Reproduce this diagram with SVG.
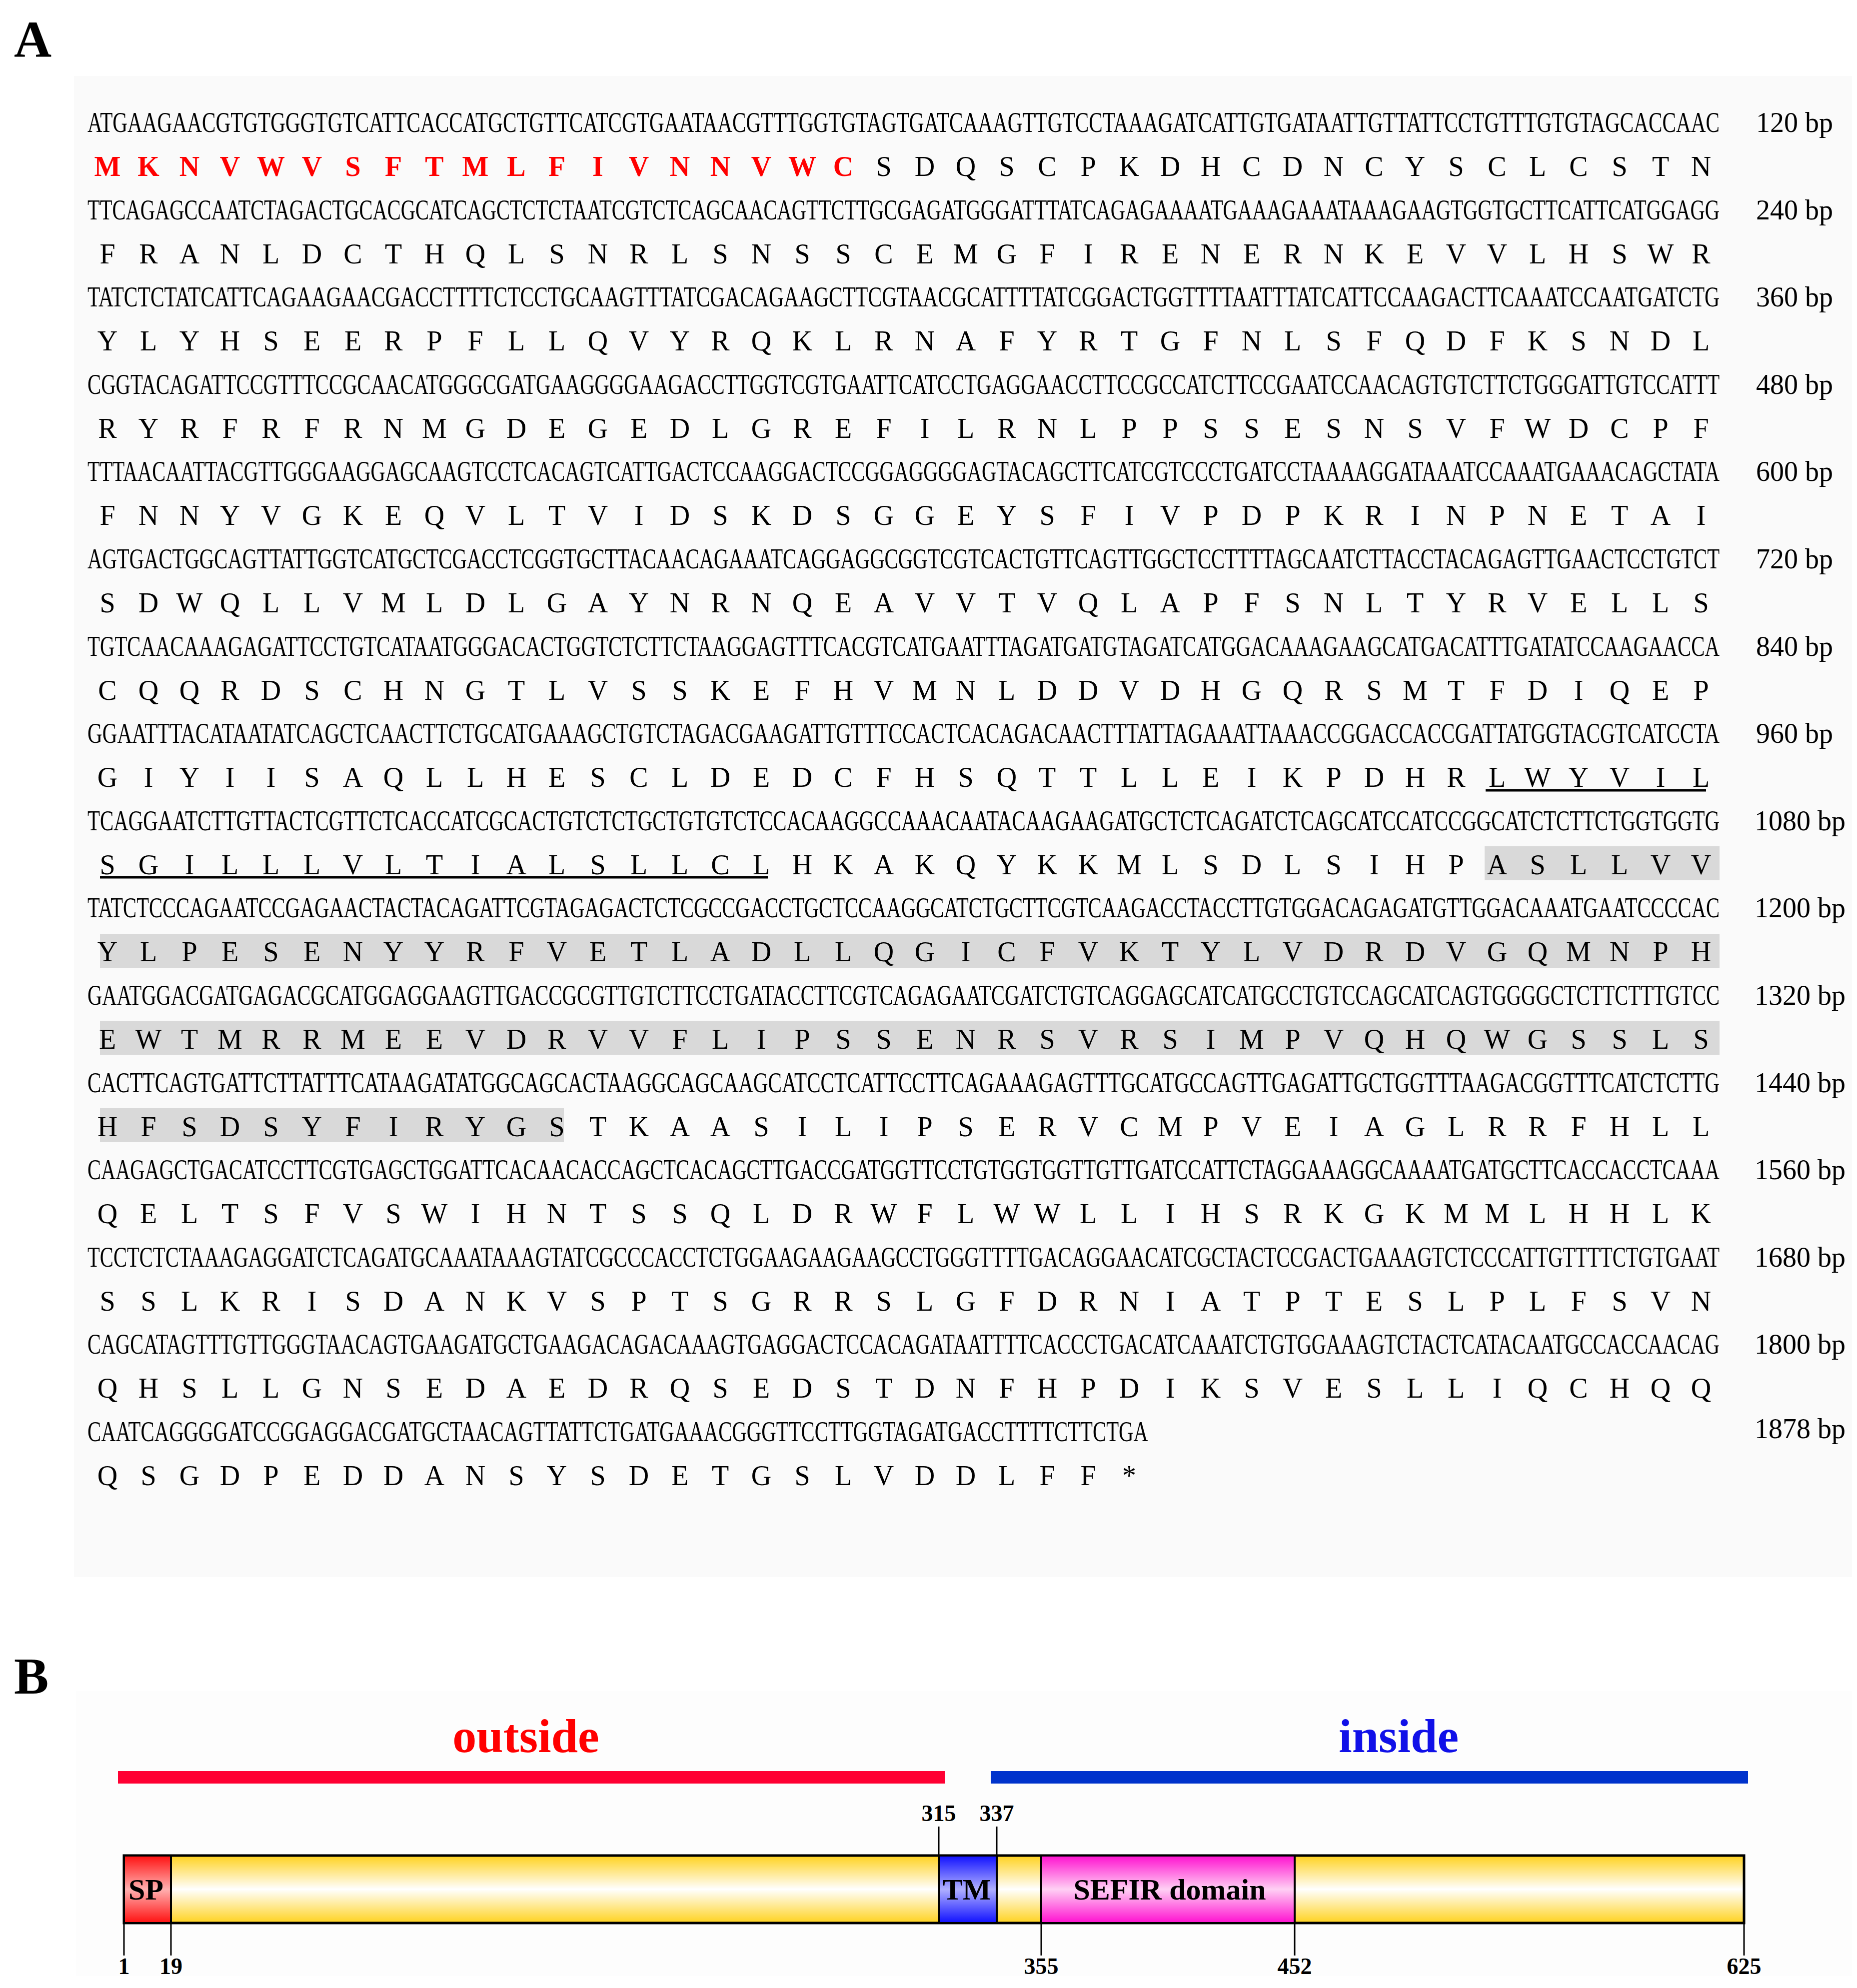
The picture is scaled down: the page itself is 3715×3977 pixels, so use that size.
<svg xmlns="http://www.w3.org/2000/svg" width="3715" height="3977" viewBox="0 0 3715 3977">
<style>
.dna{font-family:"Liberation Serif",serif;font-size:58px;fill:#000}
.aa{font-family:"Liberation Serif",serif;font-size:56px;fill:#000;text-anchor:middle}
.sig{font-family:"Liberation Serif",serif;font-size:56px;font-weight:bold;fill:#ff0000;text-anchor:middle}
.bp{font-family:"Liberation Serif",serif;font-size:56px;fill:#000}
.pl{font-family:"Liberation Serif",serif;font-size:104px;font-weight:bold;fill:#000}
.num{font-family:"Liberation Serif",serif;font-size:46px;font-weight:bold;fill:#000;text-anchor:middle}
.dom{font-family:"Liberation Serif",serif;font-size:60px;font-weight:bold;fill:#000;text-anchor:middle}
.grey{fill:#d9d9d9}
.ul{stroke:#000;stroke-width:5}
.tick{stroke:#000;stroke-width:3}
</style>
<defs>
<linearGradient id="gold" x1="0" y1="0" x2="0" y2="1">
<stop offset="0" stop-color="#ffd21e"/><stop offset="0.5" stop-color="#ffffff"/><stop offset="1" stop-color="#ffd21e"/></linearGradient>
<linearGradient id="red" x1="0" y1="0" x2="0" y2="1">
<stop offset="0" stop-color="#ff1010"/><stop offset="0.5" stop-color="#ffb0b0"/><stop offset="1" stop-color="#ff1010"/></linearGradient>
<linearGradient id="blue" x1="0" y1="0" x2="0" y2="1">
<stop offset="0" stop-color="#1010ff"/><stop offset="0.5" stop-color="#b0b0ff"/><stop offset="1" stop-color="#1010ff"/></linearGradient>
<linearGradient id="pink" x1="0" y1="0" x2="0" y2="1">
<stop offset="0" stop-color="#ff10d0"/><stop offset="0.5" stop-color="#ffd0f4"/><stop offset="1" stop-color="#ff10d0"/></linearGradient>
</defs>
<rect width="3715" height="3977" fill="#ffffff"/>
<rect x="148" y="152" width="3557" height="3003" fill="#fafafa"/>
<rect x="152" y="3383" width="3553" height="570" fill="#fdfdfd"/>
<text class="pl" x="28" y="114">A</text>
<text class="pl" x="28" y="3388">B</text>
<g id="highlights">
<rect class="grey" x="2970" y="1693" width="470" height="68"/>
<rect class="grey" x="200" y="1868" width="3240" height="68"/>
<rect class="grey" x="200" y="2042" width="3240" height="68"/>
<rect class="grey" x="200" y="2217" width="928" height="68"/>
<line class="ul" x1="2972" y1="1581" x2="3413" y2="1581"/>
<line class="ul" x1="200" y1="1755" x2="1536" y2="1755"/>
</g>
<g id="dna" class="dna" transform="scale(0.69 1)">
<text x="253.62" y="264" textLength="4731.9" lengthAdjust="spacingAndGlyphs">ATGAAGAACGTGTGGGTGTCATTCACCATGCTGTTCATCGTGAATAACGTTTGGTGTAGTGATCAAAGTTGTCCTAAAGATCATTGTGATAATTGTTATTCCTGTTTGTGTAGCACCAAC</text>
<text x="253.62" y="438.6" textLength="4731.9" lengthAdjust="spacingAndGlyphs">TTCAGAGCCAATCTAGACTGCACGCATCAGCTCTCTAATCGTCTCAGCAACAGTTCTTGCGAGATGGGATTTATCAGAGAAAATGAAAGAAATAAAGAAGTGGTGCTTCATTCATGGAGG</text>
<text x="253.62" y="613.2" textLength="4731.9" lengthAdjust="spacingAndGlyphs">TATCTCTATCATTCAGAAGAACGACCTTTTCTCCTGCAAGTTTATCGACAGAAGCTTCGTAACGCATTTTATCGGACTGGTTTTAATTTATCATTCCAAGACTTCAAATCCAATGATCTG</text>
<text x="253.62" y="787.8" textLength="4731.9" lengthAdjust="spacingAndGlyphs">CGGTACAGATTCCGTTTCCGCAACATGGGCGATGAAGGGGAAGACCTTGGTCGTGAATTCATCCTGAGGAACCTTCCGCCATCTTCCGAATCCAACAGTGTCTTCTGGGATTGTCCATTT</text>
<text x="253.62" y="962.4" textLength="4731.9" lengthAdjust="spacingAndGlyphs">TTTAACAATTACGTTGGGAAGGAGCAAGTCCTCACAGTCATTGACTCCAAGGACTCCGGAGGGGAGTACAGCTTCATCGTCCCTGATCCTAAAAGGATAAATCCAAATGAAACAGCTATA</text>
<text x="253.62" y="1137" textLength="4731.9" lengthAdjust="spacingAndGlyphs">AGTGACTGGCAGTTATTGGTCATGCTCGACCTCGGTGCTTACAACAGAAATCAGGAGGCGGTCGTCACTGTTCAGTTGGCTCCTTTTAGCAATCTTACCTACAGAGTTGAACTCCTGTCT</text>
<text x="253.62" y="1311.6" textLength="4731.9" lengthAdjust="spacingAndGlyphs">TGTCAACAAAGAGATTCCTGTCATAATGGGACACTGGTCTCTTCTAAGGAGTTTCACGTCATGAATTTAGATGATGTAGATCATGGACAAAGAAGCATGACATTTGATATCCAAGAACCA</text>
<text x="253.62" y="1486.2" textLength="4731.9" lengthAdjust="spacingAndGlyphs">GGAATTTACATAATATCAGCTCAACTTCTGCATGAAAGCTGTCTAGACGAAGATTGTTTCCACTCACAGACAACTTTATTAGAAATTAAACCGGACCACCGATTATGGTACGTCATCCTA</text>
<text x="253.62" y="1660.8" textLength="4731.9" lengthAdjust="spacingAndGlyphs">TCAGGAATCTTGTTACTCGTTCTCACCATCGCACTGTCTCTGCTGTGTCTCCACAAGGCCAAACAATACAAGAAGATGCTCTCAGATCTCAGCATCCATCCGGCATCTCTTCTGGTGGTG</text>
<text x="253.62" y="1835.4" textLength="4731.9" lengthAdjust="spacingAndGlyphs">TATCTCCCAGAATCCGAGAACTACTACAGATTCGTAGAGACTCTCGCCGACCTGCTCCAAGGCATCTGCTTCGTCAAGACCTACCTTGTGGACAGAGATGTTGGACAAATGAATCCCCAC</text>
<text x="253.62" y="2010" textLength="4731.9" lengthAdjust="spacingAndGlyphs">GAATGGACGATGAGACGCATGGAGGAAGTTGACCGCGTTGTCTTCCTGATACCTTCGTCAGAGAATCGATCTGTCAGGAGCATCATGCCTGTCCAGCATCAGTGGGGCTCTTCTTTGTCC</text>
<text x="253.62" y="2184.6" textLength="4731.9" lengthAdjust="spacingAndGlyphs">CACTTCAGTGATTCTTATTTCATAAGATATGGCAGCACTAAGGCAGCAAGCATCCTCATTCCTTCAGAAAGAGTTTGCATGCCAGTTGAGATTGCTGGTTTAAGACGGTTTCATCTCTTG</text>
<text x="253.62" y="2359.2" textLength="4731.9" lengthAdjust="spacingAndGlyphs">CAAGAGCTGACATCCTTCGTGAGCTGGATTCACAACACCAGCTCACAGCTTGACCGATGGTTCCTGTGGTGGTTGTTGATCCATTCTAGGAAAGGCAAAATGATGCTTCACCACCTCAAA</text>
<text x="253.62" y="2533.8" textLength="4731.9" lengthAdjust="spacingAndGlyphs">TCCTCTCTAAAGAGGATCTCAGATGCAAATAAAGTATCGCCCACCTCTGGAAGAAGAAGCCTGGGTTTTGACAGGAACATCGCTACTCCGACTGAAAGTCTCCCATTGTTTTCTGTGAAT</text>
<text x="253.62" y="2708.4" textLength="4731.9" lengthAdjust="spacingAndGlyphs">CAGCATAGTTTGTTGGGTAACAGTGAAGATGCTGAAGACAGACAAAGTGAGGACTCCACAGATAATTTTCACCCTGACATCAAATCTGTGGAAAGTCTACTCATACAATGCCACCAACAG</text>
<text x="253.62" y="2883" textLength="3075.4" lengthAdjust="spacingAndGlyphs">CAATCAGGGGATCCGGAGGACGATGCTAACAGTTATTCTGATGAAACGGGTTCCTTGGTAGATGACCTTTTCTTCTGA</text>
</g>
<g id="bp" class="bp">
<text x="3513" y="264">120 bp</text>
<text x="3513" y="438.6">240 bp</text>
<text x="3513" y="613.2">360 bp</text>
<text x="3513" y="787.8">480 bp</text>
<text x="3513" y="962.4">600 bp</text>
<text x="3513" y="1137">720 bp</text>
<text x="3513" y="1311.6">840 bp</text>
<text x="3513" y="1486.2">960 bp</text>
<text x="3510" y="1660.8">1080 bp</text>
<text x="3510" y="1835.4">1200 bp</text>
<text x="3510" y="2010">1320 bp</text>
<text x="3510" y="2184.6">1440 bp</text>
<text x="3510" y="2359.2">1560 bp</text>
<text x="3510" y="2533.8">1680 bp</text>
<text x="3510" y="2708.4">1800 bp</text>
<text x="3510" y="2877">1878 bp</text>
</g>
<g id="protein">
<text class="sig" x="215 297 379 460 542 624 706 787 869 951 1033 1114 1196 1278 1360 1441 1523 1605 1687" y="352">MKNVWVSFTMLFIVNNVWC</text>
<text class="aa" x="1768 1850 1932 2014 2095 2177 2259 2341 2422 2504 2586 2668 2749 2831 2913 2995 3076 3158 3240 3322 3403" y="352">SDQSCPKDHCDNCYSCLCSTN</text>
<text class="aa" x="215 297 379 460 542 624 706 787 869 951 1033 1114 1196 1278 1360 1441 1523 1605 1687 1768 1850 1932 2014 2095 2177 2259 2341 2422 2504 2586 2668 2749 2831 2913 2995 3076 3158 3240 3322 3403" y="526.6">FRANLDCTHQLSNRLSNSSCEMGFIRENERNKEVVLHSWR</text>
<text class="aa" x="215 297 379 460 542 624 706 787 869 951 1033 1114 1196 1278 1360 1441 1523 1605 1687 1768 1850 1932 2014 2095 2177 2259 2341 2422 2504 2586 2668 2749 2831 2913 2995 3076 3158 3240 3322 3403" y="701.2">YLYHSEERPFLLQVYRQKLRNAFYRTGFNLSFQDFKSNDL</text>
<text class="aa" x="215 297 379 460 542 624 706 787 869 951 1033 1114 1196 1278 1360 1441 1523 1605 1687 1768 1850 1932 2014 2095 2177 2259 2341 2422 2504 2586 2668 2749 2831 2913 2995 3076 3158 3240 3322 3403" y="875.8">RYRFRFRNMGDEGEDLGREFILRNLPPSSESNSVFWDCPF</text>
<text class="aa" x="215 297 379 460 542 624 706 787 869 951 1033 1114 1196 1278 1360 1441 1523 1605 1687 1768 1850 1932 2014 2095 2177 2259 2341 2422 2504 2586 2668 2749 2831 2913 2995 3076 3158 3240 3322 3403" y="1050.4">FNNYVGKEQVLTVIDSKDSGGEYSFIVPDPKRINPNETAI</text>
<text class="aa" x="215 297 379 460 542 624 706 787 869 951 1033 1114 1196 1278 1360 1441 1523 1605 1687 1768 1850 1932 2014 2095 2177 2259 2341 2422 2504 2586 2668 2749 2831 2913 2995 3076 3158 3240 3322 3403" y="1225">SDWQLLVMLDLGAYNRNQEAVVTVQLAPFSNLTYRVELLS</text>
<text class="aa" x="215 297 379 460 542 624 706 787 869 951 1033 1114 1196 1278 1360 1441 1523 1605 1687 1768 1850 1932 2014 2095 2177 2259 2341 2422 2504 2586 2668 2749 2831 2913 2995 3076 3158 3240 3322 3403" y="1399.6">CQQRDSCHNGTLVSSKEFHVMNLDDVDHGQRSMTFDIQEP</text>
<text class="aa" x="215 297 379 460 542 624 706 787 869 951 1033 1114 1196 1278 1360 1441 1523 1605 1687 1768 1850 1932 2014 2095 2177 2259 2341 2422 2504 2586 2668 2749 2831 2913 2995 3076 3158 3240 3322 3403" y="1574.2">GIYIISAQLLHESCLDEDCFHSQTTLLEIKPDHRLWYVIL</text>
<text class="aa" x="215 297 379 460 542 624 706 787 869 951 1033 1114 1196 1278 1360 1441 1523 1605 1687 1768 1850 1932 2014 2095 2177 2259 2341 2422 2504 2586 2668 2749 2831 2913 2995 3076 3158 3240 3322 3403" y="1748.8">SGILLLVLTIALSLLCLHKAKQYKKMLSDLSIHPASLLVV</text>
<text class="aa" x="215 297 379 460 542 624 706 787 869 951 1033 1114 1196 1278 1360 1441 1523 1605 1687 1768 1850 1932 2014 2095 2177 2259 2341 2422 2504 2586 2668 2749 2831 2913 2995 3076 3158 3240 3322 3403" y="1923.4">YLPESENYYRFVETLADLLQGICFVKTYLVDRDVGQMNPH</text>
<text class="aa" x="215 297 379 460 542 624 706 787 869 951 1033 1114 1196 1278 1360 1441 1523 1605 1687 1768 1850 1932 2014 2095 2177 2259 2341 2422 2504 2586 2668 2749 2831 2913 2995 3076 3158 3240 3322 3403" y="2098">EWTMRRMEEVDRVVFLIPSSENRSVRSIMPVQHQWGSSLS</text>
<text class="aa" x="215 297 379 460 542 624 706 787 869 951 1033 1114 1196 1278 1360 1441 1523 1605 1687 1768 1850 1932 2014 2095 2177 2259 2341 2422 2504 2586 2668 2749 2831 2913 2995 3076 3158 3240 3322 3403" y="2272.6">HFSDSYFIRYGSTKAASILIPSERVCMPVEIAGLRRFHLL</text>
<text class="aa" x="215 297 379 460 542 624 706 787 869 951 1033 1114 1196 1278 1360 1441 1523 1605 1687 1768 1850 1932 2014 2095 2177 2259 2341 2422 2504 2586 2668 2749 2831 2913 2995 3076 3158 3240 3322 3403" y="2447.2">QELTSFVSWIHNTSSQLDRWFLWWLLIHSRKGKMMLHHLK</text>
<text class="aa" x="215 297 379 460 542 624 706 787 869 951 1033 1114 1196 1278 1360 1441 1523 1605 1687 1768 1850 1932 2014 2095 2177 2259 2341 2422 2504 2586 2668 2749 2831 2913 2995 3076 3158 3240 3322 3403" y="2621.8">SSLKRISDANKVSPTSGRRSLGFDRNIATPTESLPLFSVN</text>
<text class="aa" x="215 297 379 460 542 624 706 787 869 951 1033 1114 1196 1278 1360 1441 1523 1605 1687 1768 1850 1932 2014 2095 2177 2259 2341 2422 2504 2586 2668 2749 2831 2913 2995 3076 3158 3240 3322 3403" y="2796.4">QHSLLGNSEDAEDRQSEDSTDNFHPDIKSVESLLIQCHQQ</text>
<text class="aa" x="215 297 379 460 542 624 706 787 869 951 1033 1114 1196 1278 1360 1441 1523 1605 1687 1768 1850 1932 2014 2095 2177 2259" y="2971">QSGDPEDDANSYSDETGSLVDDLFF*</text>
</g>
<g id="topology">
<text x="1052" y="3505" font-family="Liberation Serif,serif" font-size="96" font-weight="bold" fill="#ff0000" text-anchor="middle">outside</text>
<text x="2798" y="3505" font-family="Liberation Serif,serif" font-size="96" font-weight="bold" fill="#1010e8" text-anchor="middle">inside</text>
<rect x="236" y="3543" width="1654" height="25" fill="#ff0033"/>
<rect x="1982" y="3543" width="1515" height="25" fill="#0033cc"/>
</g>
<g id="connectors">
<line class="tick" x1="1878" y1="3654" x2="1878" y2="3712"/>
<line class="tick" x1="1994" y1="3654" x2="1994" y2="3712"/>
<line class="tick" x1="248" y1="3847" x2="248" y2="3912"/>
<line class="tick" x1="342" y1="3847" x2="342" y2="3912"/>
<line class="tick" x1="2083" y1="3847" x2="2083" y2="3912"/>
<line class="tick" x1="2590" y1="3847" x2="2590" y2="3912"/>
<line class="tick" x1="3489" y1="3847" x2="3489" y2="3912"/>
</g>
<g id="bar">
<rect x="248" y="3712" width="3241" height="135" fill="url(#gold)" stroke="#000" stroke-width="5"/>
</g>
<g id="SP"><rect x="248" y="3712" width="94" height="135" fill="url(#red)" stroke="#000" stroke-width="4"/><text class="dom" x="292" y="3800">SP</text></g>
<g id="TM"><rect x="1878" y="3712" width="116" height="135" fill="url(#blue)" stroke="#000" stroke-width="4"/><text class="dom" x="1934" y="3800">TM</text></g>
<g id="SEFIR"><rect x="2083" y="3712" width="507" height="135" fill="url(#pink)" stroke="#000" stroke-width="4"/><text class="dom" x="2340" y="3800">SEFIR domain</text></g>
<g id="numbers">
<text class="num" x="1878" y="3643">315</text>
<text class="num" x="1994" y="3643">337</text>
<text class="num" x="248" y="3949">1</text>
<text class="num" x="342" y="3949">19</text>
<text class="num" x="2083" y="3949">355</text>
<text class="num" x="2590" y="3949">452</text>
<text class="num" x="3489" y="3949">625</text>
</g>
</svg>
